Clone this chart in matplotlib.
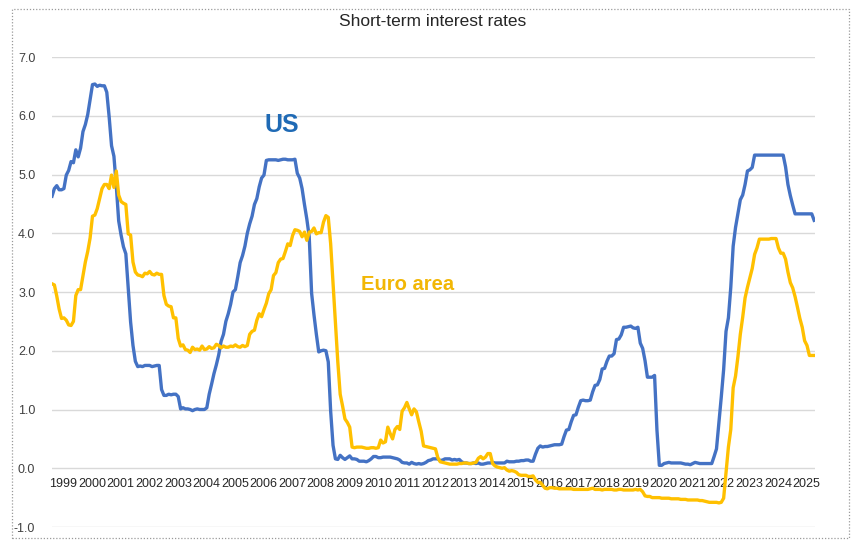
import numpy as np
import matplotlib
matplotlib.use('Agg')
from matplotlib import pyplot as plt
from matplotlib.patches import Rectangle

# %% ----- DATA (monthly averages, Jan 1999 - Sep 2025) -----

us_rate = [
    4.63, 4.76, 4.81, 4.74, 4.74, 4.76, 4.99, 5.07, 5.22, 5.20, 5.42, 5.30,  # 1999
    5.45, 5.73, 5.85, 6.02, 6.27, 6.53, 6.54, 6.50, 6.52, 6.51, 6.51, 6.40,  # 2000
    5.98, 5.49, 5.31, 4.80, 4.21, 3.97, 3.77, 3.65, 3.07, 2.49, 2.09, 1.82,  # 2001
    1.73, 1.74, 1.73, 1.75, 1.75, 1.75, 1.73, 1.74, 1.75, 1.75, 1.34, 1.24,  # 2002
    1.24, 1.26, 1.25, 1.26, 1.26, 1.22, 1.01, 1.03, 1.01, 1.01, 1.00, 0.98,  # 2003
    1.00, 1.01, 1.00, 1.00, 1.00, 1.03, 1.26, 1.43, 1.61, 1.76, 1.93, 2.16,  # 2004
    2.28, 2.50, 2.63, 2.79, 3.00, 3.04, 3.26, 3.50, 3.62, 3.78, 4.00, 4.16,  # 2005
    4.29, 4.49, 4.59, 4.79, 4.94, 4.99, 5.24, 5.25, 5.25, 5.25, 5.25, 5.24,  # 2006
    5.25, 5.26, 5.26, 5.25, 5.25, 5.25, 5.26, 5.02, 4.94, 4.76, 4.49, 4.24,  # 2007
    3.94, 2.98, 2.61, 2.28, 1.98, 2.00, 2.01, 2.00, 1.81, 0.97, 0.39, 0.16,  # 2008
    0.15, 0.22, 0.18, 0.15, 0.18, 0.21, 0.16, 0.16, 0.15, 0.12, 0.12, 0.12,  # 2009
    0.11, 0.13, 0.16, 0.20, 0.20, 0.18, 0.18, 0.19, 0.19, 0.19, 0.19, 0.18,  # 2010
    0.17, 0.16, 0.14, 0.10, 0.09, 0.09, 0.07, 0.10, 0.08, 0.07, 0.08, 0.07,  # 2011
    0.08, 0.10, 0.13, 0.14, 0.16, 0.16, 0.16, 0.13, 0.14, 0.16, 0.16, 0.16,  # 2012
    0.14, 0.15, 0.14, 0.15, 0.11, 0.09, 0.09, 0.08, 0.08, 0.09, 0.08, 0.09,  # 2013
    0.07, 0.07, 0.08, 0.09, 0.09, 0.10, 0.09, 0.09, 0.09, 0.09, 0.09, 0.12,  # 2014
    0.11, 0.11, 0.11, 0.12, 0.12, 0.13, 0.13, 0.14, 0.14, 0.12, 0.12, 0.24,  # 2015
    0.34, 0.38, 0.36, 0.37, 0.37, 0.38, 0.39, 0.40, 0.40, 0.40, 0.41, 0.54,  # 2016
    0.65, 0.66, 0.79, 0.90, 0.91, 1.04, 1.15, 1.16, 1.15, 1.15, 1.16, 1.30,  # 2017
    1.41, 1.42, 1.51, 1.69, 1.70, 1.82, 1.91, 1.91, 1.95, 2.19, 2.20, 2.27,  # 2018
    2.40, 2.40, 2.41, 2.42, 2.39, 2.38, 2.40, 2.13, 2.04, 1.83, 1.55, 1.55,  # 2019
    1.55, 1.58, 0.65, 0.05, 0.05, 0.08, 0.09, 0.10, 0.09, 0.09, 0.09, 0.09,  # 2020
    0.09, 0.08, 0.07, 0.07, 0.06, 0.08, 0.10, 0.09, 0.08, 0.08, 0.08, 0.08,  # 2021
    0.08, 0.08, 0.20, 0.33, 0.77, 1.21, 1.68, 2.33, 2.56, 3.08, 3.78, 4.10,  # 2022
    4.33, 4.57, 4.65, 4.83, 5.06, 5.08, 5.12, 5.33, 5.33, 5.33, 5.33, 5.33,  # 2023
    5.33, 5.33, 5.33, 5.33, 5.33, 5.33, 5.33, 5.33, 5.13, 4.83, 4.64, 4.48,  # 2024
    4.33, 4.33, 4.33, 4.33, 4.33, 4.33, 4.33, 4.33, 4.22,                    # 2025
]

euro_rate = [
    3.14, 3.12, 2.93, 2.71, 2.55, 2.56, 2.52, 2.44, 2.43, 2.50, 2.94, 3.04,  # 1999
    3.04, 3.28, 3.51, 3.69, 3.92, 4.29, 4.31, 4.42, 4.59, 4.76, 4.83, 4.83,  # 2000
    4.76, 4.99, 4.78, 5.06, 4.65, 4.54, 4.51, 4.49, 3.99, 3.97, 3.51, 3.34,  # 2001
    3.29, 3.28, 3.26, 3.32, 3.31, 3.35, 3.30, 3.29, 3.32, 3.30, 3.30, 2.94,  # 2002
    2.79, 2.76, 2.75, 2.56, 2.56, 2.21, 2.08, 2.10, 2.02, 2.01, 1.97, 2.06,  # 2003
    2.02, 2.03, 2.01, 2.08, 2.02, 2.03, 2.07, 2.04, 2.05, 2.11, 2.09, 2.05,  # 2004
    2.08, 2.06, 2.06, 2.08, 2.07, 2.10, 2.07, 2.06, 2.09, 2.07, 2.09, 2.28,  # 2005
    2.33, 2.35, 2.52, 2.63, 2.58, 2.70, 2.81, 2.97, 3.04, 3.28, 3.33, 3.50,  # 2006
    3.56, 3.57, 3.69, 3.82, 3.79, 3.96, 4.06, 4.05, 4.03, 3.94, 4.02, 3.88,  # 2007
    4.02, 4.03, 4.09, 3.99, 4.01, 4.01, 4.19, 4.30, 4.27, 3.82, 3.15, 2.49,  # 2008
    1.81, 1.26, 1.06, 0.84, 0.78, 0.70, 0.36, 0.35, 0.36, 0.36, 0.36, 0.35,  # 2009
    0.34, 0.34, 0.35, 0.35, 0.34, 0.35, 0.48, 0.43, 0.45, 0.70, 0.59, 0.50,  # 2010
    0.66, 0.71, 0.66, 0.97, 1.03, 1.12, 1.01, 0.91, 1.01, 0.96, 0.79, 0.63,  # 2011
    0.38, 0.37, 0.36, 0.35, 0.34, 0.33, 0.18, 0.11, 0.10, 0.09, 0.08, 0.07,  # 2012
    0.07, 0.07, 0.07, 0.08, 0.08, 0.09, 0.09, 0.08, 0.08, 0.09, 0.10, 0.17,  # 2013
    0.20, 0.16, 0.19, 0.25, 0.25, 0.08, 0.04, 0.02, 0.01, 0.00, 0.01, -0.03,  # 2014
    -0.05, -0.04, -0.05, -0.07, -0.11, -0.12, -0.12, -0.12, -0.14, -0.14, -0.13, -0.20,  # 2015
    -0.24, -0.24, -0.29, -0.34, -0.35, -0.33, -0.33, -0.34, -0.34, -0.35, -0.35, -0.35,  # 2016
    -0.35, -0.35, -0.35, -0.36, -0.36, -0.36, -0.36, -0.36, -0.36, -0.36, -0.35, -0.34,  # 2017
    -0.36, -0.36, -0.36, -0.37, -0.36, -0.36, -0.36, -0.36, -0.37, -0.37, -0.36, -0.36,  # 2018
    -0.37, -0.37, -0.37, -0.37, -0.37, -0.36, -0.37, -0.36, -0.40, -0.47, -0.48, -0.48,  # 2019
    -0.50, -0.50, -0.50, -0.50, -0.51, -0.51, -0.51, -0.51, -0.52, -0.52, -0.52, -0.52,  # 2020
    -0.53, -0.53, -0.53, -0.54, -0.54, -0.54, -0.54, -0.54, -0.55, -0.55, -0.56, -0.57,  # 2021
    -0.58, -0.58, -0.58, -0.58, -0.59, -0.58, -0.51, -0.08, 0.36, 0.66, 1.37, 1.57,  # 2022
    1.90, 2.28, 2.57, 2.90, 3.08, 3.24, 3.40, 3.64, 3.75, 3.90, 3.90, 3.90,  # 2023
    3.90, 3.90, 3.91, 3.91, 3.91, 3.75, 3.66, 3.66, 3.56, 3.34, 3.16, 3.07,  # 2024
    2.92, 2.74, 2.55, 2.40, 2.17, 2.09, 1.92, 1.92, 1.92,                    # 2025
]

years = list(range(1999, 2026))
y_ticks = [7.0, 6.0, 5.0, 4.0, 3.0, 2.0, 1.0, 0.0, -1.0]

# time axis in fractional years, one point per month
t = 1999 + np.arange(len(us_rate)) / 12.0

# %% ----- PLOT -----

narrow = ['Liberation Sans Narrow', 'Liberation Sans', 'DejaVu Sans']
plt.rcParams['font.family'] = narrow

fig = plt.figure(figsize=(8.65, 5.4), dpi=100)
ax = fig.add_axes([52 / 865, 1 - 527 / 540, (815 - 52) / 865, (527 - 57) / 540])

ax.plot(t, us_rate, color='#4472C4', linewidth=2.4, solid_joinstyle='round')
ax.plot(t, euro_rate, color='#FFC000', linewidth=2.4, solid_joinstyle='round')

ax.set_ylim(-1.0, 7.0)
ax.set_xlim(1999, t[-1] + 0.03)
ax.set_yticks(y_ticks)
ax.set_yticklabels([f'{v:.1f}' for v in y_ticks])
ax.set_xticks([y + 0.4 for y in years])
ax.set_xticklabels([str(y) for y in years])
ax.grid(axis='y', color='#d9d9d9', linewidth=1.0)
ax.set_axisbelow(True)

for side in ['top', 'right', 'left']:
    ax.spines[side].set_visible(False)
ax.spines['bottom'].set_position(('data', 0))
ax.spines['bottom'].set_color('none')

ax.tick_params(axis='x', length=0, pad=7, labelsize=9, labelcolor='#262626')
ax.tick_params(axis='y', length=0, pad=12, labelsize=9, labelcolor='#404040')

fig.text(0.5, 1 - 21 / 540, 'Short-term interest rates', ha='center', va='center',
         fontsize=12.5, color='#262626')

ax.text(2007.05, 5.84, 'US', color='#1F6AB5', fontsize=18, fontweight='bold',
        ha='center', va='center', family=['Liberation Sans', 'DejaVu Sans'])
ax.text(2011.45, 3.12, 'Euro area', color='#F2B705', fontsize=14.5, fontweight='bold',
        ha='center', va='center', family=['Liberation Sans', 'DejaVu Sans'])

# dotted selection frame around the chart
frame = Rectangle((12 / 865, 2 / 540), (849 - 12) / 865, (531 - 2) / 540,
                  transform=fig.transFigure, fill=False, edgecolor='#9a9a9a',
                  linestyle=(0, (1, 1.5)), linewidth=0.9)
fig.patches.append(frame)

fig.savefig('out.png', dpi=100)
